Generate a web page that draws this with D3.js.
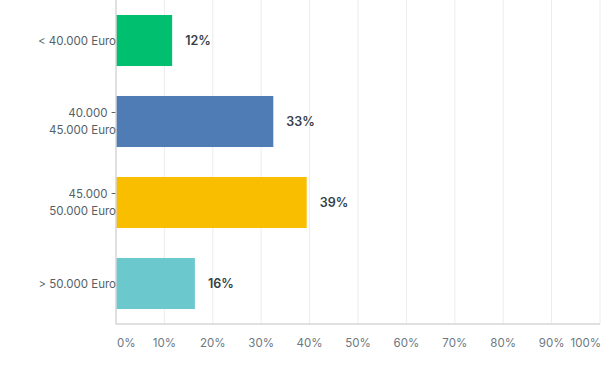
<!doctype html>
<html lang="de">
<head>
  <meta charset="utf-8">
  <title>Einkommen</title>
  <style>
    body { margin: 0; background: #fff; }
    svg text { font-family: Inter, "Open Sans", sans-serif; }
  </style>
</head>
<body>
<div id="chart"></div>
<script src="https://d3js.org/d3.v7.min.js"></script>
<script>
// categories (each entry = lines of the label)
var categories = [["< 40.000 Euro"], ["40.000 -", "45.000 Euro"], ["45.000 -", "50.000 Euro"], ["> 50.000 Euro"]];
var values = [11.6, 32.5, 39.4, 16.3];
var valueLabels = ["12%", "33%", "39%", "16%"];
var colors = ["#00bf6f", "#507cb6", "#f9be00", "#6bc8cd"];
var ticks = [0, 10, 20, 30, 40, 50, 60, 70, 80, 90, 100];

var width = 602, height = 375;
var plotLeft = 116, plotRight = 600, plotTop = 0, plotBottom = 324;

var svg = d3.select("#chart").append("svg")
  .attr("width", width)
  .attr("height", height);

var x = d3.scaleLinear().domain([0, 100]).range([plotLeft, plotRight]);
var y = d3.scaleBand()
  .domain(d3.range(categories.length))
  .range([plotTop, plotBottom])
  .paddingInner(0.37)
  .paddingOuter(0.185);

// gridlines
svg.append("g").selectAll("line")
  .data(ticks.slice(1))
  .enter().append("line")
  .attr("x1", d => x(d)).attr("x2", d => x(d))
  .attr("y1", plotTop).attr("y2", plotBottom)
  .attr("stroke", "#ececec")
  .attr("stroke-width", 1);

// bars
svg.append("g").selectAll("rect")
  .data(values)
  .enter().append("rect")
  .attr("x", x(0))
  .attr("y", (d, i) => y(i))
  .attr("width", d => x(d) - x(0))
  .attr("height", y.bandwidth())
  .attr("fill", (d, i) => colors[i]);

// axes lines
svg.append("line")
  .attr("x1", x(0)).attr("x2", x(0))
  .attr("y1", plotTop).attr("y2", plotBottom + 0.5)
  .attr("stroke", "#d6d6d6").attr("stroke-width", 1.5);
svg.append("line")
  .attr("x1", x(0)).attr("x2", x(100))
  .attr("y1", plotBottom).attr("y2", plotBottom)
  .attr("stroke", "#d6d6d6").attr("stroke-width", 1.5);

// value labels
svg.append("g").selectAll("text")
  .data(values)
  .enter().append("text")
  .attr("x", d => x(d) + 13)
  .attr("y", (d, i) => y(i) + y.bandwidth() / 2)
  .attr("dy", "0.35em")
  .attr("font-size", 12.5)
  .attr("font-weight", 600)
  .attr("fill", "#333e48")
  .text((d, i) => valueLabels[i]);

// category labels
var cat = svg.append("g").selectAll("text")
  .data(categories)
  .enter().append("text")
  .attr("x", x(0))
  .attr("y", (d, i) => y(i) + y.bandwidth() / 2)
  .attr("text-anchor", "end")
  .attr("font-size", 11.5)
  .attr("fill", "#555f66");
cat.each(function(d) {
  var t = d3.select(this);
  var n = d.length;
  d.forEach(function(line, k) {
    t.append("tspan")
      .attr("x", x(0))
      .attr("dy", k === 0 ? (0.35 - (n - 1) * 0.7) + "em" : "1.4em")
      .text(line);
  });
});

// x tick labels
svg.append("g").selectAll("text")
  .data(ticks)
  .enter().append("text")
  .attr("x", d => d === 0 ? x(d) + 1 : (d === 100 ? x(d) + 1 : x(d)))
  .attr("y", 343)
  .attr("dy", "0.35em")
  .attr("text-anchor", d => d === 0 ? "start" : (d === 100 ? "end" : "middle"))
  .attr("font-size", 11.5)
  .attr("fill", "#6b787f")
  .text(d => d + "%");
</script>
</body>
</html>
